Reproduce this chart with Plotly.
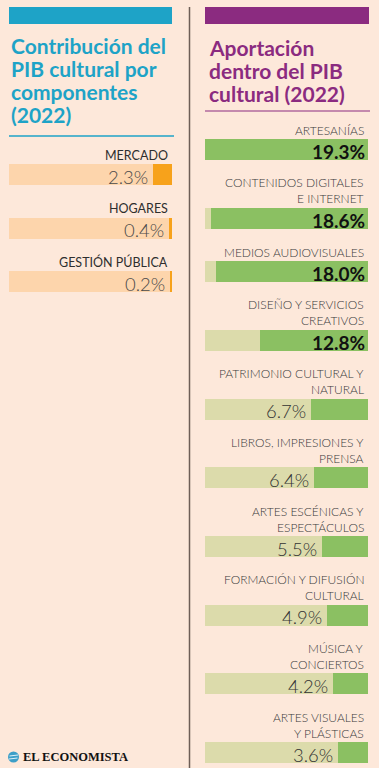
import plotly.graph_objects as go

# ---------------- data ----------------
left_title = ["Contribución del", "PIB cultural por", "componentes", "(2022)"]
left_labels = ["MERCADO", "HOGARES", "GESTIÓN PÚBLICA"]
left_values = [2.3, 0.4, 0.2]

right_title = ["Aportación", "dentro del PIB", "cultural (2022)"]
right_labels = [
    ["ARTESANÍAS"],
    ["CONTENIDOS DIGITALES", "E INTERNET"],
    ["MEDIOS AUDIOVISUALES"],
    ["DISEÑO Y SERVICIOS", "CREATIVOS"],
    ["PATRIMONIO CULTURAL Y", "NATURAL"],
    ["LIBROS, IMPRESIONES Y", "PRENSA"],
    ["ARTES ESCÉNICAS Y", "ESPECTÁCULOS"],
    ["FORMACIÓN Y DIFUSIÓN", "CULTURAL"],
    ["MÚSICA Y", "CONCIERTOS"],
    ["ARTES VISUALES", "Y PLÁSTICAS"],
]
right_values = [19.3, 18.6, 18.0, 12.8, 6.7, 6.4, 5.5, 4.9, 4.2, 3.6]
source = "EL ECONOMISTA"

# ---------------- style / layout ----------------
W, H = 379, 768
BG = "#fde8da"
CYAN = "#1ea3c7"
PURPLE = "#8b2b80"
LTRACK = "#fdd5ac"
ORANGE = "#f7a21b"
RTRACK = "#dcdbab"
GREEN = "#8bc062"
DIV = "#6e5e56"
TXT = "#3a3a3a"

SCALE = max(right_values)
BAR_W = 21
LINE_H = 15.2
LINE_SP = 16
BLOCK = 38.3
LABEL_GAP = 19.5


def px(x):
    return x / W


def centers(start, labels):
    out = []
    c = start
    for i, lab in enumerate(labels):
        if i > 0:
            c += BLOCK + LINE_H * len(lab)
        out.append(c)
    return out


lc = centers(174.5, [[l] for l in left_labels])
rc = centers(149.5, right_labels)

fig = go.Figure()

# left panel bars
fig.add_trace(go.Bar(y=lc, x=[SCALE] * len(lc), base=0, orientation="h", width=BAR_W,
                     marker=dict(color=LTRACK, line=dict(width=0)), xaxis="x", yaxis="y",
                     hoverinfo="skip", showlegend=False))
fig.add_trace(go.Bar(y=lc, x=left_values, base=[SCALE - v for v in left_values], orientation="h",
                     width=BAR_W, marker=dict(color=ORANGE, line=dict(width=0)), xaxis="x", yaxis="y",
                     showlegend=False))
# right panel bars
fig.add_trace(go.Bar(y=rc, x=[SCALE] * len(rc), base=0, orientation="h", width=BAR_W,
                     marker=dict(color=RTRACK, line=dict(width=0)), xaxis="x2", yaxis="y2",
                     hoverinfo="skip", showlegend=False))
fig.add_trace(go.Bar(y=rc, x=right_values, base=[SCALE - v for v in right_values], orientation="h",
                     width=BAR_W, marker=dict(color=GREEN, line=dict(width=0)), xaxis="x2", yaxis="y2",
                     showlegend=False))

ann = []
LIGHT = dict(family="Lato", size=12, color=TXT, weight=300)

# left labels / values
for lab, v, c in zip(left_labels, left_values, lc):
    ann.append(dict(xref="x", yref="y", x=SCALE, y=c - LABEL_GAP, text=lab, xanchor="right",
                    yanchor="middle", xshift=-2, showarrow=False,
                    font=dict(family="Lato", size=12.5, color="#2e2e2e", weight=400)))
    ann.append(dict(xref="x", yref="y", x=SCALE - v, y=c + 2, text=f"{v:.1f}%", xanchor="right",
                    yanchor="middle", xshift=-3, showarrow=False,
                    font=dict(family="Lato", size=18.5, color="#4a4a4a", weight=300)))

# right labels / values
for lab, v, c in zip(right_labels, right_values, rc):
    n = len(lab)
    for k, line in enumerate(lab):
        y = c - LABEL_GAP - LINE_SP * (n - 1 - k)
        ann.append(dict(xref="x2", yref="y2", x=SCALE, y=y, text=line, xanchor="right",
                        yanchor="middle", xshift=-2, showarrow=False, font=LIGHT))
    if v >= 10:
        ann.append(dict(xref="x2", yref="y2", x=SCALE, y=c + 2, text=f"<b>{v:.1f}%</b>",
                        xanchor="right", yanchor="middle", xshift=-1, showarrow=False,
                        font=dict(family="Lato", size=19, color="#111", weight=900)))
    else:
        ann.append(dict(xref="x2", yref="y2", x=SCALE - v, y=c + 2, text=f"{v:.1f}%",
                        xanchor="right", yanchor="middle", xshift=-3, showarrow=False,
                        font=dict(family="Lato", size=18.5, color="#333", weight=300)))

# titles
for i, t in enumerate(left_title):
    ann.append(dict(xref="paper", yref="y", x=px(9), y=45 + 23 * i, text=f"<b>{t}</b>",
                    xanchor="left", yanchor="middle", showarrow=False,
                    font=dict(family="Lato", size=21, color=CYAN)))
for i, t in enumerate(right_title):
    ann.append(dict(xref="paper", yref="y", x=px(207), y=47 + 23 * i, text=f"<b>{t}</b>",
                    xanchor="left", yanchor="middle", showarrow=False,
                    font=dict(family="Lato", size=21, color=PURPLE)))

# source
ann.append(dict(xref="paper", yref="y", x=px(21), y=757, text=f"<b>{source}</b>", xanchor="left",
                yanchor="middle", showarrow=False,
                font=dict(family="Liberation Serif", size=12.5, color="#111")))

shapes = [
    dict(type="rect", xref="paper", yref="y", x0=px(9), x1=px(172), y0=7, y1=24,
         fillcolor=CYAN, line=dict(width=0), layer="below"),
    dict(type="rect", xref="paper", yref="y", x0=px(205), x1=px(369), y0=7, y1=24,
         fillcolor=PURPLE, line=dict(width=0), layer="below"),
    dict(type="line", xref="paper", yref="y", x0=px(9), x1=px(174), y0=136, y1=136,
         line=dict(color=CYAN, width=1.5)),
    dict(type="line", xref="paper", yref="y", x0=px(205), x1=px(370), y0=111, y1=111,
         line=dict(color=PURPLE, width=1.2)),
    dict(type="line", xref="paper", yref="y", x0=px(189.5), x1=px(189.5), y0=7, y1=768,
         line=dict(color=DIV, width=1.5)),
    dict(type="circle", xref="paper", yref="y", x0=px(8), x1=px(19), y0=751.5, y1=762.5,
         fillcolor="#3d9fc8", line=dict(width=0)),
    dict(type="line", xref="paper", yref="y", x0=px(9.5), x1=px(18), y0=756, y1=755,
         line=dict(color="#dff1f8", width=1)),
    dict(type="line", xref="paper", yref="y", x0=px(9), x1=px(17.5), y0=759, y1=758,
         line=dict(color="#dff1f8", width=1)),
]

ax_off = dict(visible=False, showgrid=False, zeroline=False, fixedrange=True)
fig.update_layout(
    width=W, height=H, margin=dict(l=0, r=0, t=0, b=0),
    paper_bgcolor=BG, plot_bgcolor=BG, barmode="overlay", bargap=0,
    xaxis=dict(domain=[px(9), px(172)], range=[0, SCALE], anchor="y", **ax_off),
    yaxis=dict(domain=[0, 1], range=[H, 0], anchor="x", **ax_off),
    xaxis2=dict(domain=[px(205), px(368)], range=[0, SCALE], anchor="y2", **ax_off),
    yaxis2=dict(domain=[0, 1], range=[H, 0], anchor="x2", **ax_off),
    annotations=ann, shapes=shapes, showlegend=False,
)

fig.write_html("out.html", config={"displayModeBar": False},
               post_script="document.body.style.margin='0';document.body.style.overflow='hidden';")
